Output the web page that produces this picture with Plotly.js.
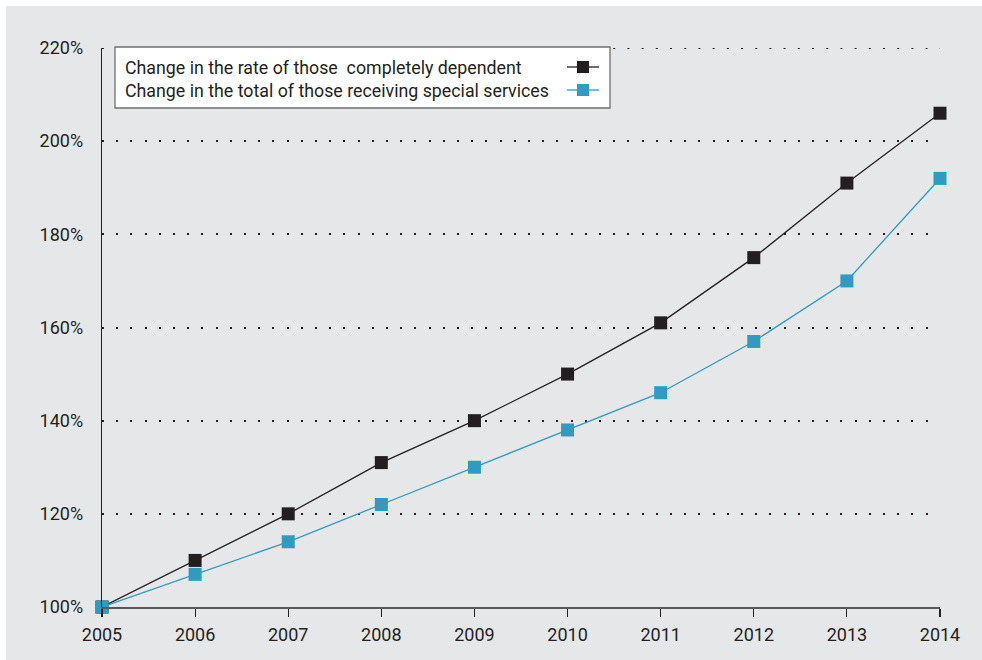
<!DOCTYPE html>
<html>
<head>
<meta charset="utf-8">
<script src="https://cdn.plot.ly/plotly-3.0.1.min.js"></script>
<style>
  html, body { margin: 0; padding: 0; background: #ffffff; }
  #chart { position: absolute; left: 6px; top: 6px; width: 976px; height: 654px; }
</style>
</head>
<body>
<div id="chart"></div>
<script>
const years = [2005, 2006, 2007, 2008, 2009, 2010, 2011, 2012, 2013, 2014];
const dependentRate = [100, 110, 120, 131, 140, 150, 161, 175, 191, 206];
const specialServices = [100, 107, 114, 122, 130, 138, 146, 157, 170, 192];
const seriesNames = [
  "Change in the rate of those \u00a0completely dependent",
  "Change in the total of those receiving special services"
];
const yTickVals = [100, 120, 140, 160, 180, 200, 220];
const yTickText = ["100%", "120%", "140%", "160%", "180%", "200%", "220%"];

const black = "#231f20";
const blue = "#2f9bc1";
const font = "Roboto, Open Sans, sans-serif";

const traces = [
  {
    x: years, y: dependentRate, name: seriesNames[0], type: "scatter", mode: "lines+markers",
    line: { color: black, width: 1.3 },
    marker: { symbol: "square", size: 13, color: black },
    cliponaxis: false, showlegend: false
  },
  {
    x: years, y: specialServices, name: seriesNames[1], type: "scatter", mode: "lines+markers",
    line: { color: blue, width: 1.3 },
    marker: { symbol: "square", size: 13, color: blue },
    cliponaxis: false, showlegend: false
  }
];

// Legend drawn as paper-referenced shapes + annotations (symbol on the right, like the reference)
const W = 976 - 96 - 42, H = 654 - 42 - 53;
const px = (x) => (x - 102) / W;           // page x -> paper x
const py = (y) => 1 - (y - 48) / H;        // page y -> paper y

const shapes = [
  // top (220%) dotted gridline, which Plotly drops at the range edge
  { type: "line", xref: "paper", yref: "y", x0: 0, x1: 1, y0: yTickVals[yTickVals.length - 1], y1: yTickVals[yTickVals.length - 1],
    line: { color: black, width: 2, dash: "2px,12.2px" }, layer: "below" },
  { type: "rect", xref: "paper", yref: "paper", x0: px(115), x1: px(610), y0: py(108), y1: py(47),
    fillcolor: "#ffffff", line: { color: "#6d6e70", width: 1.3 }, layer: "above" },
  { type: "line", xref: "paper", yref: "paper", x0: px(567), x1: px(599), y0: py(67), y1: py(67),
    line: { color: black, width: 1.3 }, layer: "above" },
  { type: "rect", xref: "paper", yref: "paper", x0: px(577), x1: px(589), y0: py(73), y1: py(61),
    fillcolor: black, line: { width: 0 }, layer: "above" },
  { type: "line", xref: "paper", yref: "paper", x0: px(567), x1: px(599), y0: py(90), y1: py(90),
    line: { color: blue, width: 1.3 }, layer: "above" },
  { type: "rect", xref: "paper", yref: "paper", x0: px(577), x1: px(589), y0: py(96), y1: py(84),
    fillcolor: blue, line: { width: 0 }, layer: "above" }
];

const annotations = [
  { xref: "paper", yref: "paper", x: px(123), y: py(67), xanchor: "left", yanchor: "middle",
    text: seriesNames[0], showarrow: false, font: { family: font, size: 17.8, color: black } },
  { xref: "paper", yref: "paper", x: px(123), y: py(90), xanchor: "left", yanchor: "middle",
    text: seriesNames[1], showarrow: false, font: { family: font, size: 17.8, color: black } }
];

const layout = {
  width: 976, height: 654,
  paper_bgcolor: "#e6e7e9", plot_bgcolor: "#e6e7e9",
  margin: { l: 96, r: 42, t: 42, b: 53 },
  font: { family: font, size: 18, color: black },
  xaxis: {
    range: [2005, 2014], tickvals: years, ticktext: years.map(String),
    showgrid: false, zeroline: false,
    showline: true, linecolor: "#58595b", linewidth: 1.5,
    ticks: "outside", ticklen: 8, tickwidth: 1.2, tickcolor: black,
    ticklabelstandoff: 3,
    tickfont: { family: font, size: 18, color: black }
  },
  yaxis: {
    range: [100, 220], tickvals: yTickVals, ticktext: yTickText,
    showgrid: true, gridcolor: black, gridwidth: 2, griddash: "2px,12.2px",
    zeroline: false, showline: true, linecolor: black, linewidth: 1.3,
    ticks: "", ticklabelstandoff: 14,
    tickfont: { family: font, size: 18, color: black }
  },
  shapes: shapes,
  annotations: annotations,
  showlegend: false
};

Plotly.newPlot("chart", traces, layout, { displayModeBar: false, staticPlot: true });
</script>
</body>
</html>
